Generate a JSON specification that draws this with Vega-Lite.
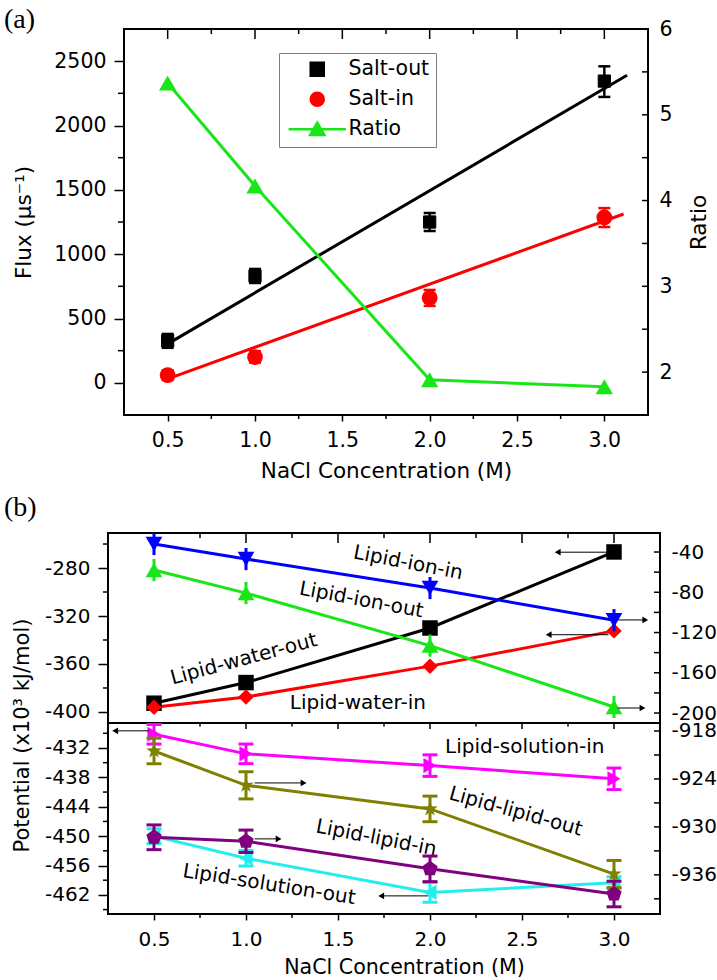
{
"$schema": "https://vega.github.io/schema/vega-lite/v6.json",
"background": "white",
"padding": {"left": 3, "top": 5, "right": 0, "bottom": 0},
"config": {
  "view": {"stroke": "black", "strokeWidth": 2},
  "font": "DejaVu Sans",
  "axis": {"domain": false, "grid": false, "tickColor": "black", "tickWidth": 1.5, "labelFont": "DejaVu Sans", "labelFontSize": 20, "labelColor": "black", "labelOverlap": false, "labelFlush": false, "labelBound": false, "titleFont": "DejaVu Sans", "titleFontSize": 21, "titleFontWeight": "normal", "titleColor": "black"},
  "title": {"font": "Liberation Serif", "fontSize": 28, "fontWeight": "normal", "color": "black", "anchor": "start", "frame": "group"}
},
"datasets": {
  "flux": [
    {"conc": 0.5, "series": "Salt-out", "value": 326, "lo": 272, "hi": 380},
    {"conc": 1.0, "series": "Salt-out", "value": 830, "lo": 776, "hi": 885},
    {"conc": 2.0, "series": "Salt-out", "value": 1250, "lo": 1180, "hi": 1320},
    {"conc": 3.0, "series": "Salt-out", "value": 2345, "lo": 2222, "hi": 2460},
    {"conc": 0.5, "series": "Salt-in", "value": 60, "lo": 22, "hi": 98},
    {"conc": 1.0, "series": "Salt-in", "value": 200, "lo": 158, "hi": 245},
    {"conc": 2.0, "series": "Salt-in", "value": 660, "lo": 598, "hi": 722},
    {"conc": 3.0, "series": "Salt-in", "value": 1285, "lo": 1211, "hi": 1358}
  ],
  "ratio": [
    {"conc": 0.5, "series": "Ratio", "value": 5.37},
    {"conc": 1.0, "series": "Ratio", "value": 4.17},
    {"conc": 2.0, "series": "Ratio", "value": 1.91},
    {"conc": 3.0, "series": "Ratio", "value": 1.83}
  ],
  "fit": [
    {"series": "Salt-out", "conc": 0.5, "value": 303},
    {"series": "Salt-out", "conc": 3.13, "value": 2391},
    {"series": "Salt-in", "conc": 0.5, "value": 31},
    {"series": "Salt-in", "conc": 3.11, "value": 1312}
  ],
  "potential": [
    {"panel": "upper", "side": "left", "series": "Lipid-water-out", "conc": 0.5, "value": -392.7, "lo": -397.7, "hi": -387.7},
    {"panel": "upper", "side": "left", "series": "Lipid-water-out", "conc": 1.0, "value": -375.5, "lo": -380.5, "hi": -370.5},
    {"panel": "upper", "side": "left", "series": "Lipid-water-out", "conc": 2.0, "value": -330, "lo": -335, "hi": -325},
    {"panel": "upper", "side": "left", "series": "Lipid-water-out", "conc": 3.0, "value": -266.6, "lo": -271.6, "hi": -261.6},
    {"panel": "upper", "side": "left", "series": "Lipid-water-in", "conc": 0.5, "value": -396, "lo": -401, "hi": -391},
    {"panel": "upper", "side": "left", "series": "Lipid-water-in", "conc": 1.0, "value": -387.5, "lo": -392.5, "hi": -382.5},
    {"panel": "upper", "side": "left", "series": "Lipid-water-in", "conc": 2.0, "value": -361.8, "lo": -366.8, "hi": -356.8},
    {"panel": "upper", "side": "left", "series": "Lipid-water-in", "conc": 3.0, "value": -332.4, "lo": -337.4, "hi": -327.4},
    {"panel": "upper", "side": "right", "series": "Lipid-ion-in", "conc": 0.5, "value": -32, "lo": -43, "hi": -21.5},
    {"panel": "upper", "side": "right", "series": "Lipid-ion-in", "conc": 1.0, "value": -47, "lo": -58, "hi": -36},
    {"panel": "upper", "side": "right", "series": "Lipid-ion-in", "conc": 2.0, "value": -75.8, "lo": -86.8, "hi": -64.8},
    {"panel": "upper", "side": "right", "series": "Lipid-ion-in", "conc": 3.0, "value": -107.7, "lo": -118.7, "hi": -96.7},
    {"panel": "upper", "side": "right", "series": "Lipid-ion-out", "conc": 0.5, "value": -57.9, "lo": -68.9, "hi": -46.9},
    {"panel": "upper", "side": "right", "series": "Lipid-ion-out", "conc": 1.0, "value": -80.8, "lo": -91.8, "hi": -69.8},
    {"panel": "upper", "side": "right", "series": "Lipid-ion-out", "conc": 2.0, "value": -133, "lo": -144, "hi": -122},
    {"panel": "upper", "side": "right", "series": "Lipid-ion-out", "conc": 3.0, "value": -194, "lo": -205, "hi": -183},
    {"panel": "lower", "side": "left", "series": "Lipid-solution-in", "conc": 0.5, "value": -429.2, "lo": -431.2, "hi": -427.2},
    {"panel": "lower", "side": "left", "series": "Lipid-solution-in", "conc": 1.0, "value": -433.2, "lo": -435.2, "hi": -431.2},
    {"panel": "lower", "side": "left", "series": "Lipid-solution-in", "conc": 2.0, "value": -435.6, "lo": -437.8, "hi": -433.4},
    {"panel": "lower", "side": "left", "series": "Lipid-solution-in", "conc": 3.0, "value": -438.3, "lo": -440.5, "hi": -436.1},
    {"panel": "lower", "side": "left", "series": "Lipid-solution-out", "conc": 0.5, "value": -450, "lo": -451.5, "hi": -448.5},
    {"panel": "lower", "side": "left", "series": "Lipid-solution-out", "conc": 1.0, "value": -454.5, "lo": -456.1, "hi": -452.9},
    {"panel": "lower", "side": "left", "series": "Lipid-solution-out", "conc": 2.0, "value": -461.5, "lo": -463.5, "hi": -459.5},
    {"panel": "lower", "side": "left", "series": "Lipid-solution-out", "conc": 3.0, "value": -459.5, "lo": -460.7, "hi": -458.3},
    {"panel": "lower", "side": "right", "series": "Lipid-lipid-out", "conc": 0.5, "value": -920.5, "lo": -922.1, "hi": -918.9},
    {"panel": "lower", "side": "right", "series": "Lipid-lipid-out", "conc": 1.0, "value": -924.8, "lo": -926.5, "hi": -923.1},
    {"panel": "lower", "side": "right", "series": "Lipid-lipid-out", "conc": 2.0, "value": -927.75, "lo": -929.35, "hi": -926.15},
    {"panel": "lower", "side": "right", "series": "Lipid-lipid-out", "conc": 3.0, "value": -935.9, "lo": -937.6, "hi": -934.2},
    {"panel": "lower", "side": "right", "series": "Lipid-lipid-in", "conc": 0.5, "value": -931.3, "lo": -932.85, "hi": -929.75},
    {"panel": "lower", "side": "right", "series": "Lipid-lipid-in", "conc": 1.0, "value": -931.8, "lo": -933.2, "hi": -930.4},
    {"panel": "lower", "side": "right", "series": "Lipid-lipid-in", "conc": 2.0, "value": -935.25, "lo": -936.85, "hi": -933.65},
    {"panel": "lower", "side": "right", "series": "Lipid-lipid-in", "conc": 3.0, "value": -938.4, "lo": -940.0, "hi": -936.8}
  ],
  "labels": [
    {"panel": "upper", "text": "Lipid-ion-in", "conc": 1.881, "value": -275.8},
    {"panel": "upper", "text": "Lipid-ion-out", "conc": 1.627, "value": -306.7},
    {"panel": "upper", "text": "Lipid-water-out", "conc": 0.988, "value": -356},
    {"panel": "upper", "text": "Lipid-water-in", "conc": 1.608, "value": -392.7},
    {"panel": "lower", "text": "Lipid-solution-in", "conc": 2.515, "value": -431.7},
    {"panel": "lower", "text": "Lipid-lipid-out", "conc": 2.466, "value": -445},
    {"panel": "lower", "text": "Lipid-lipid-in", "conc": 1.708, "value": -450.4},
    {"panel": "lower", "text": "Lipid-solution-out", "conc": 1.126, "value": -459.9}
  ],
  "arrows": [
    {"panel": "upper", "side": "left", "series": "Lipid-water-out", "tail": 2.965, "head": 2.694, "value": -266.8},
    {"panel": "upper", "side": "left", "series": "Lipid-water-in", "tail": 2.97, "head": 2.645, "value": -335.6},
    {"panel": "upper", "side": "right", "series": "Lipid-ion-in", "tail": 3.02, "head": 3.17, "value": -107.5},
    {"panel": "upper", "side": "right", "series": "Lipid-ion-out", "tail": 3.02, "head": 3.155, "value": -195},
    {"panel": "lower", "side": "left", "series": "Lipid-solution-in", "tail": 0.473, "head": 0.289, "value": -428.5},
    {"panel": "lower", "side": "left", "series": "Lipid-solution-out", "tail": 1.99, "head": 1.735, "value": -462.2},
    {"panel": "lower", "side": "right", "series": "Lipid-lipid-out", "tail": 1.047, "head": 1.313, "value": -924.5},
    {"panel": "lower", "side": "right", "series": "Lipid-lipid-in", "tail": 1.047, "head": 1.177, "value": -931.5}
  ],
  "xticks": [
    {"v": 0.5, "kind": "major"}, {"v": 0.75, "kind": "minor"}, {"v": 1.0, "kind": "major"}, {"v": 1.25, "kind": "minor"},
    {"v": 1.5, "kind": "major"}, {"v": 1.75, "kind": "minor"}, {"v": 2.0, "kind": "major"}, {"v": 2.25, "kind": "minor"},
    {"v": 2.5, "kind": "major"}, {"v": 2.75, "kind": "minor"}, {"v": 3.0, "kind": "major"}
  ],
  "yticks": [
    {"axis": "flux", "v": 250}, {"axis": "flux", "v": 750}, {"axis": "flux", "v": 1250}, {"axis": "flux", "v": 1750}, {"axis": "flux", "v": 2250},
    {"axis": "ratio", "v": 2}, {"axis": "ratio", "v": 2.5}, {"axis": "ratio", "v": 3}, {"axis": "ratio", "v": 3.5}, {"axis": "ratio", "v": 4}, {"axis": "ratio", "v": 4.5}, {"axis": "ratio", "v": 5}, {"axis": "ratio", "v": 5.5},
    {"axis": "upleft", "v": -380}, {"axis": "upleft", "v": -340}, {"axis": "upleft", "v": -300}, {"axis": "upleft", "v": -260},
    {"axis": "upright", "v": -200}, {"axis": "upright", "v": -180}, {"axis": "upright", "v": -160}, {"axis": "upright", "v": -140}, {"axis": "upright", "v": -120}, {"axis": "upright", "v": -100}, {"axis": "upright", "v": -80}, {"axis": "upright", "v": -60}, {"axis": "upright", "v": -40},
    {"axis": "loleft", "v": -465}, {"axis": "loleft", "v": -459}, {"axis": "loleft", "v": -453}, {"axis": "loleft", "v": -447}, {"axis": "loleft", "v": -441}, {"axis": "loleft", "v": -435}, {"axis": "loleft", "v": -429},
    {"axis": "loright", "v": -939}, {"axis": "loright", "v": -936}, {"axis": "loright", "v": -933}, {"axis": "loright", "v": -930}, {"axis": "loright", "v": -927}, {"axis": "loright", "v": -924}, {"axis": "loright", "v": -921}, {"axis": "loright", "v": -918}
  ]
},
"resolve": {"scale": {"color": "independent", "shape": "independent", "stroke": "independent"}},
"spacing": 9,
"vconcat": [
  {
    "hconcat": [
      {"width": 16, "height": 386, "data": {"values": []}, "mark": "point", "view": {"stroke": null}},
      {
        "width": 524, "height": 386,
        "title": {"text": "(a)", "dx": -120, "dy": 38, "offset": 1, "baseline": "alphabetic"},
        "resolve": {"scale": {"x": "independent", "y": "independent"}},
        "layer": [
          {
            "layer": [
              {"data": {"name": "fit"}, "transform": [{"filter": "datum.series === 'Salt-out'"}], "mark": {"type": "line", "strokeWidth": 3, "color": "#000000"},
               "encoding": {
                 "x": {"field": "conc", "type": "quantitative", "scale": {"domain": [0.25, 3.25], "nice": false, "zero": false},
                       "axis": {"orient": "bottom", "values": [0.5,1,1.5,2,2.5,3], "tickCount": 100, "labelExpr": "format(datum.value, '.1f')", "tickSize": 6, "labelPadding": 9, "labelFontSize": 20.5, "title": "NaCl Concentration (M)", "titleFontSize": 21.5, "titlePadding": 10}},
                 "y": {"field": "value", "type": "quantitative", "scale": {"domain": [-250, 2750], "nice": false, "zero": false},
                       "axis": {"orient": "left", "values": [0,500,1000,1500,2000,2500], "tickCount": 100, "labelExpr": "'' + datum.value", "tickSize": 10, "labelPadding": 8, "labelFontSize": 20.5, "title": "Flux (μs⁻¹)", "titleFontSize": 21.5, "titlePadding": 18}}
               }},
              {"data": {"name": "fit"}, "transform": [{"filter": "datum.series === 'Salt-in'"}], "mark": {"type": "line", "strokeWidth": 3, "color": "#ff0000"},
               "encoding": {
                 "x": {"field": "conc", "type": "quantitative", "scale": {"domain": [0.25, 3.25], "nice": false, "zero": false}},
                 "y": {"field": "value", "type": "quantitative", "scale": {"domain": [-250, 2750], "nice": false, "zero": false}}
               }},
              {"data": {"name": "xticks"}, "transform": [{"filter": "datum.kind === 'minor'"}], "mark": {"type": "point", "shape": "stroke", "angle": 90, "size": 16, "filled": false, "strokeWidth": 1.5, "opacity": 1, "color": "black"},
               "encoding": {
                 "x": {"field": "v", "type": "quantitative", "scale": {"domain": [0.25, 3.25], "nice": false, "zero": false}},
                 "y": {"datum": -265.5, "type": "quantitative", "scale": {"domain": [-250, 2750], "nice": false, "zero": false}}
               }},
              {"data": {"name": "xticks"}, "transform": [{"filter": "datum.kind === 'major'"}], "mark": {"type": "point", "shape": "stroke", "angle": 90, "size": 100, "filled": false, "strokeWidth": 1.5, "opacity": 1, "color": "black"},
               "encoding": {
                 "x": {"field": "v", "type": "quantitative", "scale": {"domain": [0.25, 3.25], "nice": false, "zero": false}},
                 "y": {"datum": 2711.1, "type": "quantitative", "scale": {"domain": [-250, 2750], "nice": false, "zero": false}}
               }},
              {"data": {"name": "xticks"}, "transform": [{"filter": "datum.kind === 'minor'"}], "mark": {"type": "point", "shape": "stroke", "angle": 90, "size": 25, "filled": false, "strokeWidth": 1.5, "opacity": 1, "color": "black"},
               "encoding": {
                 "x": {"field": "v", "type": "quantitative", "scale": {"domain": [0.25, 3.25], "nice": false, "zero": false}},
                 "y": {"datum": 2730.6, "type": "quantitative", "scale": {"domain": [-250, 2750], "nice": false, "zero": false}}
               }},
              {"data": {"name": "yticks"}, "transform": [{"filter": "datum.axis === 'flux'"}], "mark": {"type": "point", "shape": "stroke", "size": 36, "filled": false, "strokeWidth": 1.5, "opacity": 1, "color": "black"},
               "encoding": {
                 "x": {"datum": 0.2328, "type": "quantitative", "scale": {"domain": [0.25, 3.25], "nice": false, "zero": false}},
                 "y": {"field": "v", "type": "quantitative", "scale": {"domain": [-250, 2750], "nice": false, "zero": false}}
               }},
              {"data": {"name": "flux"}, "transform": [{"filter": "datum.series === 'Salt-out'"}], "mark": {"type": "rule", "strokeWidth": 2.5, "color": "#000000"},
               "encoding": {
                 "x": {"field": "conc", "type": "quantitative", "scale": {"domain": [0.25, 3.25], "nice": false, "zero": false}},
                 "y": {"field": "lo", "type": "quantitative", "scale": {"domain": [-250, 2750], "nice": false, "zero": false}},
                 "y2": {"field": "hi"}
               }},
              {"data": {"name": "flux"}, "transform": [{"filter": "datum.series === 'Salt-in'"}], "mark": {"type": "rule", "strokeWidth": 2.5, "color": "#ff0000"},
               "encoding": {
                 "x": {"field": "conc", "type": "quantitative", "scale": {"domain": [0.25, 3.25], "nice": false, "zero": false}},
                 "y": {"field": "lo", "type": "quantitative", "scale": {"domain": [-250, 2750], "nice": false, "zero": false}},
                 "y2": {"field": "hi"}
               }},
              {"data": {"name": "flux"}, "transform": [{"filter": "datum.series === 'Salt-out'"}], "mark": {"type": "point", "shape": "stroke", "size": 144, "strokeWidth": 2.5, "filled": false, "opacity": 1, "color": "#000000"},
               "encoding": {
                 "x": {"field": "conc", "type": "quantitative", "scale": {"domain": [0.25, 3.25], "nice": false, "zero": false}},
                 "y": {"field": "lo", "type": "quantitative", "scale": {"domain": [-250, 2750], "nice": false, "zero": false}}
               }},
              {"data": {"name": "flux"}, "transform": [{"filter": "datum.series === 'Salt-out'"}], "mark": {"type": "point", "shape": "stroke", "size": 144, "strokeWidth": 2.5, "filled": false, "opacity": 1, "color": "#000000"},
               "encoding": {
                 "x": {"field": "conc", "type": "quantitative", "scale": {"domain": [0.25, 3.25], "nice": false, "zero": false}},
                 "y": {"field": "hi", "type": "quantitative", "scale": {"domain": [-250, 2750], "nice": false, "zero": false}}
               }},
              {"data": {"name": "flux"}, "transform": [{"filter": "datum.series === 'Salt-in'"}], "mark": {"type": "point", "shape": "stroke", "size": 144, "strokeWidth": 2.5, "filled": false, "opacity": 1, "color": "#ff0000"},
               "encoding": {
                 "x": {"field": "conc", "type": "quantitative", "scale": {"domain": [0.25, 3.25], "nice": false, "zero": false}},
                 "y": {"field": "lo", "type": "quantitative", "scale": {"domain": [-250, 2750], "nice": false, "zero": false}}
               }},
              {"data": {"name": "flux"}, "transform": [{"filter": "datum.series === 'Salt-in'"}], "mark": {"type": "point", "shape": "stroke", "size": 144, "strokeWidth": 2.5, "filled": false, "opacity": 1, "color": "#ff0000"},
               "encoding": {
                 "x": {"field": "conc", "type": "quantitative", "scale": {"domain": [0.25, 3.25], "nice": false, "zero": false}},
                 "y": {"field": "hi", "type": "quantitative", "scale": {"domain": [-250, 2750], "nice": false, "zero": false}}
               }},
              {"data": {"name": "flux"}, "transform": [{"filter": "datum.series === 'Salt-out'"}],
               "mark": {"type": "point", "filled": true, "opacity": 1, "size": 150, "strokeWidth": 1},
               "encoding": {
                 "x": {"field": "conc", "type": "quantitative", "scale": {"domain": [0.25, 3.25], "nice": false, "zero": false}},
                 "y": {"field": "value", "type": "quantitative", "scale": {"domain": [-250, 2750], "nice": false, "zero": false}},
                 "color": {"field": "series", "type": "nominal", "scale": {"domain": ["Salt-out", "Salt-in", "Ratio"], "range": ["#000000", "#ff0000", "#19e619"]},
                   "legend": {"title": null, "orient": "none", "legendX": 171, "legendY": 24, "padding": 6, "strokeColor": "#7f7f7f", "fillColor": "white", "labelFont": "DejaVu Sans", "labelFontSize": 20.5, "labelColor": "black", "labelOffset": 21, "symbolOffset": 22, "rowPadding": 6, "symbolSize": 170, "symbolStrokeWidth": 2.5}},
                 "stroke": {"field": "series", "type": "nominal", "scale": {"domain": ["Salt-out", "Salt-in", "Ratio"], "range": ["#000000", "#ff0000", "#19e619"]},
                   "legend": {"title": null, "orient": "none", "legendX": 171, "legendY": 24, "padding": 6, "strokeColor": "#7f7f7f", "fillColor": "white", "labelFont": "DejaVu Sans", "labelFontSize": 20.5, "labelColor": "black", "labelOffset": 21, "symbolOffset": 22, "rowPadding": 6, "symbolSize": 170, "symbolStrokeWidth": 2.5}},
                 "shape": {"field": "series", "type": "nominal", "scale": {"domain": ["Salt-out", "Salt-in", "Ratio"], "range": ["square", "circle", "M-4.4,0H4.4M0,-1.0L1.1,0.9L-1.1,0.9Z"]},
                   "legend": {"title": null, "orient": "none", "legendX": 171, "legendY": 24, "padding": 6, "strokeColor": "#7f7f7f", "fillColor": "white", "labelFont": "DejaVu Sans", "labelFontSize": 20.5, "labelColor": "black", "labelOffset": 21, "symbolOffset": 22, "rowPadding": 6, "symbolSize": 170, "symbolStrokeWidth": 2.5}}
               }},
              {"data": {"name": "flux"}, "transform": [{"filter": "datum.series === 'Salt-in'"}],
               "mark": {"type": "point", "filled": true, "opacity": 1, "shape": "circle", "size": 250, "color": "#ff0000"},
               "encoding": {
                 "x": {"field": "conc", "type": "quantitative", "scale": {"domain": [0.25, 3.25], "nice": false, "zero": false}},
                 "y": {"field": "value", "type": "quantitative", "scale": {"domain": [-250, 2750], "nice": false, "zero": false}}
               }}
            ]
          },
          {
            "layer": [
              {"data": {"name": "ratio"}, "mark": {"type": "line", "strokeWidth": 3, "color": "#19e619"},
               "encoding": {
                 "x": {"field": "conc", "type": "quantitative", "scale": {"domain": [0.25, 3.25], "nice": false, "zero": false},
                       "axis": {"orient": "top", "ticks": false, "labels": false, "title": null}},
                 "y": {"field": "value", "type": "quantitative", "scale": {"domain": [1.5, 6], "nice": false, "zero": false},
                       "axis": {"orient": "right", "values": [2,3,4,5,6], "tickCount": 100, "labelExpr": "'' + datum.value", "ticks": false, "labelPadding": 11, "labelFontSize": 20.5, "title": "Ratio", "titleAngle": -90, "titleBaseline": "top", "titleFontSize": 21.5, "titlePadding": 16}}
               }},
              {"data": {"name": "yticks"}, "transform": [{"filter": "datum.axis === 'ratio'"}], "mark": {"type": "point", "shape": "stroke", "size": 36, "filled": false, "strokeWidth": 1.5, "opacity": 1, "color": "black"},
               "encoding": {
                 "x": {"datum": 3.2328, "type": "quantitative", "scale": {"domain": [0.25, 3.25], "nice": false, "zero": false}},
                 "y": {"field": "v", "type": "quantitative", "scale": {"domain": [1.5, 6], "nice": false, "zero": false}}
               }},
              {"data": {"name": "ratio"}, "mark": {"type": "point", "filled": true, "opacity": 1, "shape": "triangle-up", "size": 300, "color": "#19e619"},
               "encoding": {
                 "x": {"field": "conc", "type": "quantitative", "scale": {"domain": [0.25, 3.25], "nice": false, "zero": false}},
                 "y": {"field": "value", "type": "quantitative", "scale": {"domain": [1.5, 6], "nice": false, "zero": false}}
               }}
            ]
          }
        ]
      }
    ],
    "spacing": 0,
    "bounds": "flush"
  },
  {
    "vconcat": [
      {
        "width": 552, "height": 190,
        "title": {"text": "(b)", "dx": -104, "dy": 28, "offset": 14, "baseline": "alphabetic"},
        "resolve": {"scale": {"y": "independent"}},
        "layer": [
          {
            "layer": [
              {"data": {"name": "potential"}, "transform": [{"filter": "datum.panel === 'upper' && datum.side === 'left'"}],
               "mark": {"type": "line", "strokeWidth": 3},
               "encoding": {
                 "x": {"field": "conc", "type": "quantitative", "scale": {"domain": [0.25, 3.25], "nice": false, "zero": false},
                       "axis": {"orient": "top", "ticks": false, "labels": false, "title": null}},
                 "y": {"field": "value", "type": "quantitative", "scale": {"domain": [-409.2, -250.8], "nice": false, "zero": false},
                       "axis": {"orient": "left", "values": [-400,-360,-320,-280], "tickCount": 100, "labelExpr": "'' + datum.value", "tickSize": 10, "labelPadding": 8, "title": null}},
                 "color": {"field": "series", "type": "nominal", "scale": {"domain": ["Lipid-water-out","Lipid-water-in","Lipid-ion-in","Lipid-ion-out","Lipid-solution-in","Lipid-lipid-out","Lipid-lipid-in","Lipid-solution-out"], "range": ["#000000","#ff0000","#0000ff","#19e619","#ff00ff","#808000","#800080","#22eeee"]}, "legend": null}
               }},
              {"data": {"name": "xticks"}, "transform": [{"filter": "datum.kind === 'major'"}], "mark": {"type": "point", "shape": "stroke", "angle": 90, "size": 100, "filled": false, "strokeWidth": 1.5, "opacity": 1, "color": "black"},
               "encoding": {
                 "x": {"field": "v", "type": "quantitative", "scale": {"domain": [0.25, 3.25], "nice": false, "zero": false}},
                 "y": {"datum": -254.97, "type": "quantitative", "scale": {"domain": [-409.2, -250.8], "nice": false, "zero": false}}
               }},
              {"data": {"name": "xticks"}, "transform": [{"filter": "datum.kind === 'minor'"}], "mark": {"type": "point", "shape": "stroke", "angle": 90, "size": 25, "filled": false, "strokeWidth": 1.5, "opacity": 1, "color": "black"},
               "encoding": {
                 "x": {"field": "v", "type": "quantitative", "scale": {"domain": [0.25, 3.25], "nice": false, "zero": false}},
                 "y": {"datum": -252.88, "type": "quantitative", "scale": {"domain": [-409.2, -250.8], "nice": false, "zero": false}}
               }},
              {"data": {"name": "yticks"}, "transform": [{"filter": "datum.axis === 'upleft'"}], "mark": {"type": "point", "shape": "stroke", "size": 25, "filled": false, "strokeWidth": 1.5, "opacity": 1, "color": "black"},
               "encoding": {
                 "x": {"datum": 0.2364, "type": "quantitative", "scale": {"domain": [0.25, 3.25], "nice": false, "zero": false}},
                 "y": {"field": "v", "type": "quantitative", "scale": {"domain": [-409.2, -250.8], "nice": false, "zero": false}}
               }},
              {"data": {"name": "potential"}, "transform": [{"filter": "datum.panel === 'upper' && datum.side === 'left'"}],
               "mark": {"type": "rule", "strokeWidth": 3},
               "encoding": {
                 "x": {"field": "conc", "type": "quantitative", "scale": {"domain": [0.25, 3.25], "nice": false, "zero": false}},
                 "y": {"field": "lo", "type": "quantitative", "scale": {"domain": [-409.2, -250.8], "nice": false, "zero": false}},
                 "y2": {"field": "hi"},
                 "color": {"field": "series", "type": "nominal", "scale": {"domain": ["Lipid-water-out","Lipid-water-in","Lipid-ion-in","Lipid-ion-out","Lipid-solution-in","Lipid-lipid-out","Lipid-lipid-in","Lipid-solution-out"], "range": ["#000000","#ff0000","#0000ff","#19e619","#ff00ff","#808000","#800080","#22eeee"]}, "legend": null}
               }},
              {"data": {"name": "potential"}, "transform": [{"filter": "datum.panel === 'upper' && datum.side === 'left'"}],
               "mark": {"type": "point", "filled": true, "opacity": 1, "size": 240},
               "encoding": {
                 "x": {"field": "conc", "type": "quantitative", "scale": {"domain": [0.25, 3.25], "nice": false, "zero": false}},
                 "y": {"field": "value", "type": "quantitative", "scale": {"domain": [-409.2, -250.8], "nice": false, "zero": false}},
                 "color": {"field": "series", "type": "nominal", "scale": {"domain": ["Lipid-water-out","Lipid-water-in","Lipid-ion-in","Lipid-ion-out","Lipid-solution-in","Lipid-lipid-out","Lipid-lipid-in","Lipid-solution-out"], "range": ["#000000","#ff0000","#0000ff","#19e619","#ff00ff","#808000","#800080","#22eeee"]}, "legend": null},
                 "shape": {"field": "series", "type": "nominal", "scale": {"domain": ["Lipid-water-out","Lipid-water-in","Lipid-ion-in","Lipid-ion-out","Lipid-solution-in","Lipid-lipid-out","Lipid-lipid-in","Lipid-solution-out"], "range": ["square","diamond","triangle-down","triangle-up","triangle-right","M0,-1L0.235,-0.324L0.951,-0.309L0.38,0.124L0.588,0.809L0,0.4L-0.588,0.809L-0.38,0.124L-0.951,-0.309L-0.235,-0.324Z","M0,-1L0.951,-0.309L0.588,0.809L-0.588,0.809L-0.951,-0.309Z","triangle-left"]}, "legend": null}
               }},
              {"data": {"name": "labels"}, "transform": [{"filter": "datum.text === 'Lipid-ion-in'"}],
               "mark": {"type": "text", "angle": 11, "fontSize": 20, "font": "DejaVu Sans", "color": "black", "align": "center", "baseline": "middle"},
               "encoding": {
                 "x": {"field": "conc", "type": "quantitative", "scale": {"domain": [0.25, 3.25], "nice": false, "zero": false}},
                 "y": {"field": "value", "type": "quantitative", "scale": {"domain": [-409.2, -250.8], "nice": false, "zero": false}},
                 "text": {"field": "text"}
               }},
              {"data": {"name": "labels"}, "transform": [{"filter": "datum.text === 'Lipid-ion-out'"}],
               "mark": {"type": "text", "angle": 10.5, "fontSize": 20, "font": "DejaVu Sans", "color": "black", "align": "center", "baseline": "middle"},
               "encoding": {
                 "x": {"field": "conc", "type": "quantitative", "scale": {"domain": [0.25, 3.25], "nice": false, "zero": false}},
                 "y": {"field": "value", "type": "quantitative", "scale": {"domain": [-409.2, -250.8], "nice": false, "zero": false}},
                 "text": {"field": "text"}
               }},
              {"data": {"name": "labels"}, "transform": [{"filter": "datum.text === 'Lipid-water-out'"}],
               "mark": {"type": "text", "angle": -15, "fontSize": 20, "font": "DejaVu Sans", "color": "black", "align": "center", "baseline": "middle"},
               "encoding": {
                 "x": {"field": "conc", "type": "quantitative", "scale": {"domain": [0.25, 3.25], "nice": false, "zero": false}},
                 "y": {"field": "value", "type": "quantitative", "scale": {"domain": [-409.2, -250.8], "nice": false, "zero": false}},
                 "text": {"field": "text"}
               }},
              {"data": {"name": "labels"}, "transform": [{"filter": "datum.text === 'Lipid-water-in'"}],
               "mark": {"type": "text", "angle": 0, "fontSize": 20, "font": "DejaVu Sans", "color": "black", "align": "center", "baseline": "middle"},
               "encoding": {
                 "x": {"field": "conc", "type": "quantitative", "scale": {"domain": [0.25, 3.25], "nice": false, "zero": false}},
                 "y": {"field": "value", "type": "quantitative", "scale": {"domain": [-409.2, -250.8], "nice": false, "zero": false}},
                 "text": {"field": "text"}
               }},
              {"data": {"name": "arrows"}, "transform": [{"filter": "datum.panel === 'upper' && datum.side === 'left'"}],
               "mark": {"type": "rule", "strokeWidth": 1, "color": "black"},
               "encoding": {
                 "x": {"field": "tail", "type": "quantitative", "scale": {"domain": [0.25, 3.25], "nice": false, "zero": false}},
                 "x2": {"field": "head"},
                 "y": {"field": "value", "type": "quantitative", "scale": {"domain": [-409.2, -250.8], "nice": false, "zero": false}}
               }},
              {"data": {"name": "arrows"}, "transform": [{"filter": "datum.panel === 'upper' && datum.side === 'left'"}],
               "mark": {"type": "point", "shape": "triangle-left", "size": 45, "filled": true, "opacity": 1, "color": "black"},
               "encoding": {
                 "x": {"field": "head", "type": "quantitative", "scale": {"domain": [0.25, 3.25], "nice": false, "zero": false}},
                 "y": {"field": "value", "type": "quantitative", "scale": {"domain": [-409.2, -250.8], "nice": false, "zero": false}}
               }}
            ]
          },
          {
            "layer": [
              {"data": {"name": "potential"}, "transform": [{"filter": "datum.panel === 'upper' && datum.side === 'right'"}],
               "mark": {"type": "line", "strokeWidth": 3},
               "encoding": {
                 "x": {"field": "conc", "type": "quantitative", "scale": {"domain": [0.25, 3.25], "nice": false, "zero": false}},
                 "y": {"field": "value", "type": "quantitative", "scale": {"domain": [-209.9, -21.1], "nice": false, "zero": false},
                       "axis": {"orient": "right", "values": [-200,-160,-120,-80,-40], "tickCount": 100, "labelExpr": "'' + datum.value", "ticks": false, "labelPadding": 11, "title": null}},
                 "color": {"field": "series", "type": "nominal", "scale": {"domain": ["Lipid-water-out","Lipid-water-in","Lipid-ion-in","Lipid-ion-out","Lipid-solution-in","Lipid-lipid-out","Lipid-lipid-in","Lipid-solution-out"], "range": ["#000000","#ff0000","#0000ff","#19e619","#ff00ff","#808000","#800080","#22eeee"]}, "legend": null}
               }},
              {"data": {"name": "yticks"}, "transform": [{"filter": "datum.axis === 'upright'"}], "mark": {"type": "point", "shape": "stroke", "size": 36, "filled": false, "strokeWidth": 1.5, "opacity": 1, "color": "black"},
               "encoding": {
                 "x": {"datum": 3.2337, "type": "quantitative", "scale": {"domain": [0.25, 3.25], "nice": false, "zero": false}},
                 "y": {"field": "v", "type": "quantitative", "scale": {"domain": [-209.9, -21.1], "nice": false, "zero": false}}
               }},
              {"data": {"name": "potential"}, "transform": [{"filter": "datum.panel === 'upper' && datum.side === 'right'"}],
               "mark": {"type": "rule", "strokeWidth": 3},
               "encoding": {
                 "x": {"field": "conc", "type": "quantitative", "scale": {"domain": [0.25, 3.25], "nice": false, "zero": false}},
                 "y": {"field": "lo", "type": "quantitative", "scale": {"domain": [-209.9, -21.1], "nice": false, "zero": false}},
                 "y2": {"field": "hi"},
                 "color": {"field": "series", "type": "nominal", "scale": {"domain": ["Lipid-water-out","Lipid-water-in","Lipid-ion-in","Lipid-ion-out","Lipid-solution-in","Lipid-lipid-out","Lipid-lipid-in","Lipid-solution-out"], "range": ["#000000","#ff0000","#0000ff","#19e619","#ff00ff","#808000","#800080","#22eeee"]}, "legend": null}
               }},
              {"data": {"name": "potential"}, "transform": [{"filter": "datum.panel === 'upper' && datum.side === 'right'"}],
               "mark": {"type": "point", "filled": true, "opacity": 1, "size": 280},
               "encoding": {
                 "x": {"field": "conc", "type": "quantitative", "scale": {"domain": [0.25, 3.25], "nice": false, "zero": false}},
                 "y": {"field": "value", "type": "quantitative", "scale": {"domain": [-209.9, -21.1], "nice": false, "zero": false}},
                 "color": {"field": "series", "type": "nominal", "scale": {"domain": ["Lipid-water-out","Lipid-water-in","Lipid-ion-in","Lipid-ion-out","Lipid-solution-in","Lipid-lipid-out","Lipid-lipid-in","Lipid-solution-out"], "range": ["#000000","#ff0000","#0000ff","#19e619","#ff00ff","#808000","#800080","#22eeee"]}, "legend": null},
                 "shape": {"field": "series", "type": "nominal", "scale": {"domain": ["Lipid-water-out","Lipid-water-in","Lipid-ion-in","Lipid-ion-out","Lipid-solution-in","Lipid-lipid-out","Lipid-lipid-in","Lipid-solution-out"], "range": ["square","diamond","triangle-down","triangle-up","triangle-right","M0,-1L0.235,-0.324L0.951,-0.309L0.38,0.124L0.588,0.809L0,0.4L-0.588,0.809L-0.38,0.124L-0.951,-0.309L-0.235,-0.324Z","M0,-1L0.951,-0.309L0.588,0.809L-0.588,0.809L-0.951,-0.309Z","triangle-left"]}, "legend": null}
               }},
              {"data": {"name": "arrows"}, "transform": [{"filter": "datum.panel === 'upper' && datum.side === 'right'"}],
               "mark": {"type": "rule", "strokeWidth": 1, "color": "black"},
               "encoding": {
                 "x": {"field": "tail", "type": "quantitative", "scale": {"domain": [0.25, 3.25], "nice": false, "zero": false}},
                 "x2": {"field": "head"},
                 "y": {"field": "value", "type": "quantitative", "scale": {"domain": [-209.9, -21.1], "nice": false, "zero": false}}
               }},
              {"data": {"name": "arrows"}, "transform": [{"filter": "datum.panel === 'upper' && datum.side === 'right'"}],
               "mark": {"type": "point", "shape": "triangle-right", "size": 45, "filled": true, "opacity": 1, "color": "black"},
               "encoding": {
                 "x": {"field": "head", "type": "quantitative", "scale": {"domain": [0.25, 3.25], "nice": false, "zero": false}},
                 "y": {"field": "value", "type": "quantitative", "scale": {"domain": [-209.9, -21.1], "nice": false, "zero": false}}
               }}
            ]
          }
        ]
      },
      {
        "width": 552, "height": 191,
        "resolve": {"scale": {"x": "independent", "y": "independent"}},
        "layer": [
          {
            "layer": [
              {"data": {"name": "potential"}, "transform": [{"filter": "datum.panel === 'lower' && datum.side === 'left'"}],
               "mark": {"type": "line", "strokeWidth": 3},
               "encoding": {
                 "x": {"field": "conc", "type": "quantitative", "scale": {"domain": [0.25, 3.25], "nice": false, "zero": false},
                       "axis": {"orient": "bottom", "values": [0.5,1,1.5,2,2.5,3], "tickCount": 100, "labelExpr": "format(datum.value, '.1f')", "tickSize": 6, "labelPadding": 9, "title": "NaCl Concentration (M)", "titleX": 296, "titleFontSize": 20.6, "titlePadding": 8}},
                 "y": {"field": "value", "type": "quantitative", "scale": {"domain": [-465.9, -426.9], "nice": false, "zero": false},
                       "axis": {"orient": "left", "values": [-462,-456,-450,-444,-438,-432], "tickCount": 100, "labelExpr": "'' + datum.value", "tickSize": 10, "labelPadding": 8, "title": "Potential (x10³ kJ/mol)", "titleY": 12, "titlePadding": 12, "titleFontSize": 21}},
                 "color": {"field": "series", "type": "nominal", "scale": {"domain": ["Lipid-water-out","Lipid-water-in","Lipid-ion-in","Lipid-ion-out","Lipid-solution-in","Lipid-lipid-out","Lipid-lipid-in","Lipid-solution-out"], "range": ["#000000","#ff0000","#0000ff","#19e619","#ff00ff","#808000","#800080","#22eeee"]}, "legend": null}
               }},
              {"data": {"name": "xticks"}, "transform": [{"filter": "datum.kind === 'minor'"}], "mark": {"type": "point", "shape": "stroke", "angle": 90, "size": 16, "filled": false, "strokeWidth": 1.5, "opacity": 1, "color": "black"},
               "encoding": {
                 "x": {"field": "v", "type": "quantitative", "scale": {"domain": [0.25, 3.25], "nice": false, "zero": false}},
                 "y": {"datum": -466.31, "type": "quantitative", "scale": {"domain": [-465.9, -426.9], "nice": false, "zero": false}}
               }},
              {"data": {"name": "xticks"}, "transform": [{"filter": "datum.kind === 'major'"}], "mark": {"type": "point", "shape": "stroke", "angle": 90, "size": 36, "filled": false, "strokeWidth": 1.5, "opacity": 1, "color": "black"},
               "encoding": {
                 "x": {"field": "v", "type": "quantitative", "scale": {"domain": [0.25, 3.25], "nice": false, "zero": false}},
                 "y": {"datum": -427.51, "type": "quantitative", "scale": {"domain": [-465.9, -426.9], "nice": false, "zero": false}}
               }},
              {"data": {"name": "xticks"}, "transform": [{"filter": "datum.kind === 'minor'"}], "mark": {"type": "point", "shape": "stroke", "angle": 90, "size": 12.25, "filled": false, "strokeWidth": 1.5, "opacity": 1, "color": "black"},
               "encoding": {
                 "x": {"field": "v", "type": "quantitative", "scale": {"domain": [0.25, 3.25], "nice": false, "zero": false}},
                 "y": {"datum": -427.26, "type": "quantitative", "scale": {"domain": [-465.9, -426.9], "nice": false, "zero": false}}
               }},
              {"data": {"name": "yticks"}, "transform": [{"filter": "datum.axis === 'loleft'"}], "mark": {"type": "point", "shape": "stroke", "size": 25, "filled": false, "strokeWidth": 1.5, "opacity": 1, "color": "black"},
               "encoding": {
                 "x": {"datum": 0.2364, "type": "quantitative", "scale": {"domain": [0.25, 3.25], "nice": false, "zero": false}},
                 "y": {"field": "v", "type": "quantitative", "scale": {"domain": [-465.9, -426.9], "nice": false, "zero": false}}
               }},
              {"data": {"name": "potential"}, "transform": [{"filter": "datum.panel === 'lower' && datum.side === 'left'"}],
               "mark": {"type": "rule", "strokeWidth": 3},
               "encoding": {
                 "x": {"field": "conc", "type": "quantitative", "scale": {"domain": [0.25, 3.25], "nice": false, "zero": false}},
                 "y": {"field": "lo", "type": "quantitative", "scale": {"domain": [-465.9, -426.9], "nice": false, "zero": false}},
                 "y2": {"field": "hi"},
                 "color": {"field": "series", "type": "nominal", "scale": {"domain": ["Lipid-water-out","Lipid-water-in","Lipid-ion-in","Lipid-ion-out","Lipid-solution-in","Lipid-lipid-out","Lipid-lipid-in","Lipid-solution-out"], "range": ["#000000","#ff0000","#0000ff","#19e619","#ff00ff","#808000","#800080","#22eeee"]}, "legend": null}
               }},
              {"data": {"name": "potential"}, "transform": [{"filter": "datum.panel === 'lower' && datum.side === 'left'"}],
               "mark": {"type": "point", "shape": "stroke", "size": 225, "strokeWidth": 3, "filled": false, "opacity": 1},
               "encoding": {
                 "x": {"field": "conc", "type": "quantitative", "scale": {"domain": [0.25, 3.25], "nice": false, "zero": false}},
                 "y": {"field": "lo", "type": "quantitative", "scale": {"domain": [-465.9, -426.9], "nice": false, "zero": false}},
                 "color": {"field": "series", "type": "nominal", "scale": {"domain": ["Lipid-water-out","Lipid-water-in","Lipid-ion-in","Lipid-ion-out","Lipid-solution-in","Lipid-lipid-out","Lipid-lipid-in","Lipid-solution-out"], "range": ["#000000","#ff0000","#0000ff","#19e619","#ff00ff","#808000","#800080","#22eeee"]}, "legend": null}
               }},
              {"data": {"name": "potential"}, "transform": [{"filter": "datum.panel === 'lower' && datum.side === 'left'"}],
               "mark": {"type": "point", "shape": "stroke", "size": 225, "strokeWidth": 3, "filled": false, "opacity": 1},
               "encoding": {
                 "x": {"field": "conc", "type": "quantitative", "scale": {"domain": [0.25, 3.25], "nice": false, "zero": false}},
                 "y": {"field": "hi", "type": "quantitative", "scale": {"domain": [-465.9, -426.9], "nice": false, "zero": false}},
                 "color": {"field": "series", "type": "nominal", "scale": {"domain": ["Lipid-water-out","Lipid-water-in","Lipid-ion-in","Lipid-ion-out","Lipid-solution-in","Lipid-lipid-out","Lipid-lipid-in","Lipid-solution-out"], "range": ["#000000","#ff0000","#0000ff","#19e619","#ff00ff","#808000","#800080","#22eeee"]}, "legend": null}
               }},
              {"data": {"name": "potential"}, "transform": [{"filter": "datum.panel === 'lower' && datum.side === 'left'"}],
               "mark": {"type": "point", "filled": true, "opacity": 1, "size": 230},
               "encoding": {
                 "x": {"field": "conc", "type": "quantitative", "scale": {"domain": [0.25, 3.25], "nice": false, "zero": false}},
                 "y": {"field": "value", "type": "quantitative", "scale": {"domain": [-465.9, -426.9], "nice": false, "zero": false}},
                 "color": {"field": "series", "type": "nominal", "scale": {"domain": ["Lipid-water-out","Lipid-water-in","Lipid-ion-in","Lipid-ion-out","Lipid-solution-in","Lipid-lipid-out","Lipid-lipid-in","Lipid-solution-out"], "range": ["#000000","#ff0000","#0000ff","#19e619","#ff00ff","#808000","#800080","#22eeee"]}, "legend": null},
                 "shape": {"field": "series", "type": "nominal", "scale": {"domain": ["Lipid-water-out","Lipid-water-in","Lipid-ion-in","Lipid-ion-out","Lipid-solution-in","Lipid-lipid-out","Lipid-lipid-in","Lipid-solution-out"], "range": ["square","diamond","triangle-down","triangle-up","triangle-right","M0,-1L0.235,-0.324L0.951,-0.309L0.38,0.124L0.588,0.809L0,0.4L-0.588,0.809L-0.38,0.124L-0.951,-0.309L-0.235,-0.324Z","M0,-1L0.951,-0.309L0.588,0.809L-0.588,0.809L-0.951,-0.309Z","triangle-left"]}, "legend": null}
               }},
              {"data": {"name": "labels"}, "transform": [{"filter": "datum.text === 'Lipid-solution-in'"}],
               "mark": {"type": "text", "angle": 0, "fontSize": 20, "font": "DejaVu Sans", "color": "black", "align": "center", "baseline": "middle"},
               "encoding": {
                 "x": {"field": "conc", "type": "quantitative", "scale": {"domain": [0.25, 3.25], "nice": false, "zero": false}},
                 "y": {"field": "value", "type": "quantitative", "scale": {"domain": [-465.9, -426.9], "nice": false, "zero": false}},
                 "text": {"field": "text"}
               }},
              {"data": {"name": "labels"}, "transform": [{"filter": "datum.text === 'Lipid-lipid-out'"}],
               "mark": {"type": "text", "angle": 15.5, "fontSize": 20, "font": "DejaVu Sans", "color": "black", "align": "center", "baseline": "middle"},
               "encoding": {
                 "x": {"field": "conc", "type": "quantitative", "scale": {"domain": [0.25, 3.25], "nice": false, "zero": false}},
                 "y": {"field": "value", "type": "quantitative", "scale": {"domain": [-465.9, -426.9], "nice": false, "zero": false}},
                 "text": {"field": "text"}
               }},
              {"data": {"name": "labels"}, "transform": [{"filter": "datum.text === 'Lipid-lipid-in'"}],
               "mark": {"type": "text", "angle": 11, "fontSize": 20, "font": "DejaVu Sans", "color": "black", "align": "center", "baseline": "middle"},
               "encoding": {
                 "x": {"field": "conc", "type": "quantitative", "scale": {"domain": [0.25, 3.25], "nice": false, "zero": false}},
                 "y": {"field": "value", "type": "quantitative", "scale": {"domain": [-465.9, -426.9], "nice": false, "zero": false}},
                 "text": {"field": "text"}
               }},
              {"data": {"name": "labels"}, "transform": [{"filter": "datum.text === 'Lipid-solution-out'"}],
               "mark": {"type": "text", "angle": 9, "fontSize": 20, "font": "DejaVu Sans", "color": "black", "align": "center", "baseline": "middle"},
               "encoding": {
                 "x": {"field": "conc", "type": "quantitative", "scale": {"domain": [0.25, 3.25], "nice": false, "zero": false}},
                 "y": {"field": "value", "type": "quantitative", "scale": {"domain": [-465.9, -426.9], "nice": false, "zero": false}},
                 "text": {"field": "text"}
               }},
              {"data": {"name": "arrows"}, "transform": [{"filter": "datum.panel === 'lower' && datum.side === 'left'"}],
               "mark": {"type": "rule", "strokeWidth": 1, "color": "black"},
               "encoding": {
                 "x": {"field": "tail", "type": "quantitative", "scale": {"domain": [0.25, 3.25], "nice": false, "zero": false}},
                 "x2": {"field": "head"},
                 "y": {"field": "value", "type": "quantitative", "scale": {"domain": [-465.9, -426.9], "nice": false, "zero": false}}
               }},
              {"data": {"name": "arrows"}, "transform": [{"filter": "datum.panel === 'lower' && datum.side === 'left'"}],
               "mark": {"type": "point", "shape": "triangle-left", "size": 45, "filled": true, "opacity": 1, "color": "black"},
               "encoding": {
                 "x": {"field": "head", "type": "quantitative", "scale": {"domain": [0.25, 3.25], "nice": false, "zero": false}},
                 "y": {"field": "value", "type": "quantitative", "scale": {"domain": [-465.9, -426.9], "nice": false, "zero": false}}
               }}
            ]
          },
          {
            "layer": [
              {"data": {"name": "potential"}, "transform": [{"filter": "datum.panel === 'lower' && datum.side === 'right'"}],
               "mark": {"type": "line", "strokeWidth": 3},
               "encoding": {
                 "x": {"field": "conc", "type": "quantitative", "scale": {"domain": [0.25, 3.25], "nice": false, "zero": false},
                       "axis": {"orient": "top", "ticks": false, "labels": false, "title": null}},
                 "y": {"field": "value", "type": "quantitative", "scale": {"domain": [-940.9, -917], "nice": false, "zero": false},
                       "axis": {"orient": "right", "values": [-936,-930,-924,-918], "tickCount": 100, "labelExpr": "'' + datum.value", "ticks": false, "labelPadding": 11, "title": null}},
                 "color": {"field": "series", "type": "nominal", "scale": {"domain": ["Lipid-water-out","Lipid-water-in","Lipid-ion-in","Lipid-ion-out","Lipid-solution-in","Lipid-lipid-out","Lipid-lipid-in","Lipid-solution-out"], "range": ["#000000","#ff0000","#0000ff","#19e619","#ff00ff","#808000","#800080","#22eeee"]}, "legend": null}
               }},
              {"data": {"name": "yticks"}, "transform": [{"filter": "datum.axis === 'loright'"}], "mark": {"type": "point", "shape": "stroke", "size": 36, "filled": false, "strokeWidth": 1.5, "opacity": 1, "color": "black"},
               "encoding": {
                 "x": {"datum": 3.2337, "type": "quantitative", "scale": {"domain": [0.25, 3.25], "nice": false, "zero": false}},
                 "y": {"field": "v", "type": "quantitative", "scale": {"domain": [-940.9, -917], "nice": false, "zero": false}}
               }},
              {"data": {"name": "potential"}, "transform": [{"filter": "datum.panel === 'lower' && datum.side === 'right'"}],
               "mark": {"type": "rule", "strokeWidth": 3},
               "encoding": {
                 "x": {"field": "conc", "type": "quantitative", "scale": {"domain": [0.25, 3.25], "nice": false, "zero": false}},
                 "y": {"field": "lo", "type": "quantitative", "scale": {"domain": [-940.9, -917], "nice": false, "zero": false}},
                 "y2": {"field": "hi"},
                 "color": {"field": "series", "type": "nominal", "scale": {"domain": ["Lipid-water-out","Lipid-water-in","Lipid-ion-in","Lipid-ion-out","Lipid-solution-in","Lipid-lipid-out","Lipid-lipid-in","Lipid-solution-out"], "range": ["#000000","#ff0000","#0000ff","#19e619","#ff00ff","#808000","#800080","#22eeee"]}, "legend": null}
               }},
              {"data": {"name": "potential"}, "transform": [{"filter": "datum.panel === 'lower' && datum.side === 'right'"}],
               "mark": {"type": "point", "shape": "stroke", "size": 225, "strokeWidth": 3, "filled": false, "opacity": 1},
               "encoding": {
                 "x": {"field": "conc", "type": "quantitative", "scale": {"domain": [0.25, 3.25], "nice": false, "zero": false}},
                 "y": {"field": "lo", "type": "quantitative", "scale": {"domain": [-940.9, -917], "nice": false, "zero": false}},
                 "color": {"field": "series", "type": "nominal", "scale": {"domain": ["Lipid-water-out","Lipid-water-in","Lipid-ion-in","Lipid-ion-out","Lipid-solution-in","Lipid-lipid-out","Lipid-lipid-in","Lipid-solution-out"], "range": ["#000000","#ff0000","#0000ff","#19e619","#ff00ff","#808000","#800080","#22eeee"]}, "legend": null}
               }},
              {"data": {"name": "potential"}, "transform": [{"filter": "datum.panel === 'lower' && datum.side === 'right'"}],
               "mark": {"type": "point", "shape": "stroke", "size": 225, "strokeWidth": 3, "filled": false, "opacity": 1},
               "encoding": {
                 "x": {"field": "conc", "type": "quantitative", "scale": {"domain": [0.25, 3.25], "nice": false, "zero": false}},
                 "y": {"field": "hi", "type": "quantitative", "scale": {"domain": [-940.9, -917], "nice": false, "zero": false}},
                 "color": {"field": "series", "type": "nominal", "scale": {"domain": ["Lipid-water-out","Lipid-water-in","Lipid-ion-in","Lipid-ion-out","Lipid-solution-in","Lipid-lipid-out","Lipid-lipid-in","Lipid-solution-out"], "range": ["#000000","#ff0000","#0000ff","#19e619","#ff00ff","#808000","#800080","#22eeee"]}, "legend": null}
               }},
              {"data": {"name": "potential"}, "transform": [{"filter": "datum.panel === 'lower' && datum.side === 'right'"}],
               "mark": {"type": "point", "filled": true, "opacity": 1, "size": 260},
               "encoding": {
                 "x": {"field": "conc", "type": "quantitative", "scale": {"domain": [0.25, 3.25], "nice": false, "zero": false}},
                 "y": {"field": "value", "type": "quantitative", "scale": {"domain": [-940.9, -917], "nice": false, "zero": false}},
                 "color": {"field": "series", "type": "nominal", "scale": {"domain": ["Lipid-water-out","Lipid-water-in","Lipid-ion-in","Lipid-ion-out","Lipid-solution-in","Lipid-lipid-out","Lipid-lipid-in","Lipid-solution-out"], "range": ["#000000","#ff0000","#0000ff","#19e619","#ff00ff","#808000","#800080","#22eeee"]}, "legend": null},
                 "shape": {"field": "series", "type": "nominal", "scale": {"domain": ["Lipid-water-out","Lipid-water-in","Lipid-ion-in","Lipid-ion-out","Lipid-solution-in","Lipid-lipid-out","Lipid-lipid-in","Lipid-solution-out"], "range": ["square","diamond","triangle-down","triangle-up","triangle-right","M0,-1L0.235,-0.324L0.951,-0.309L0.38,0.124L0.588,0.809L0,0.4L-0.588,0.809L-0.38,0.124L-0.951,-0.309L-0.235,-0.324Z","M0,-1L0.951,-0.309L0.588,0.809L-0.588,0.809L-0.951,-0.309Z","triangle-left"]}, "legend": null}
               }},
              {"data": {"name": "arrows"}, "transform": [{"filter": "datum.panel === 'lower' && datum.side === 'right'"}],
               "mark": {"type": "rule", "strokeWidth": 1, "color": "black"},
               "encoding": {
                 "x": {"field": "tail", "type": "quantitative", "scale": {"domain": [0.25, 3.25], "nice": false, "zero": false}},
                 "x2": {"field": "head"},
                 "y": {"field": "value", "type": "quantitative", "scale": {"domain": [-940.9, -917], "nice": false, "zero": false}}
               }},
              {"data": {"name": "arrows"}, "transform": [{"filter": "datum.panel === 'lower' && datum.side === 'right'"}],
               "mark": {"type": "point", "shape": "triangle-right", "size": 45, "filled": true, "opacity": 1, "color": "black"},
               "encoding": {
                 "x": {"field": "head", "type": "quantitative", "scale": {"domain": [0.25, 3.25], "nice": false, "zero": false}},
                 "y": {"field": "value", "type": "quantitative", "scale": {"domain": [-940.9, -917], "nice": false, "zero": false}}
               }}
            ]
          }
        ]
      }
    ],
    "spacing": 0,
    "bounds": "flush"
  }
]
}
